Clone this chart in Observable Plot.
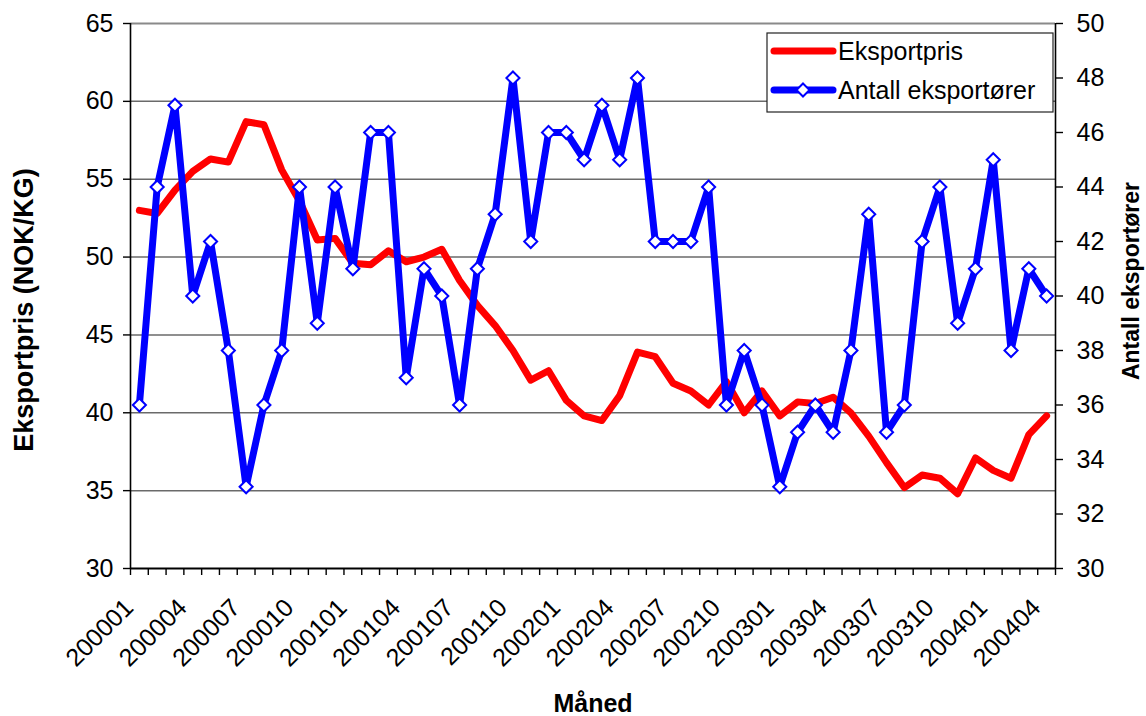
<!DOCTYPE html>
<html>
<head>
<meta charset="utf-8">
<script src="https://cdn.jsdelivr.net/npm/d3@7"></script>
<script src="https://cdn.jsdelivr.net/npm/@observablehq/plot@0.6"></script>
<style>
  body { margin: 0; background: #fff; }
  #chart { width: 1146px; height: 716px; }
</style>
</head>
<body>
<div id="chart"></div>
<script>
const months = [
  "200001","200002","200003","200004","200005","200006","200007","200008","200009","200010","200011","200012",
  "200101","200102","200103","200104","200105","200106","200107","200108","200109","200110","200111","200112",
  "200201","200202","200203","200204","200205","200206","200207","200208","200209","200210","200211","200212",
  "200301","200302","200303","200304","200305","200306","200307","200308","200309","200310","200311","200312",
  "200401","200402","200403","200404"
];
const eksportpris = [
  53.0, 52.8, 54.3, 55.5, 56.3, 56.1, 58.7, 58.5, 55.6, 53.6, 51.1, 51.2,
  49.6, 49.5, 50.4, 49.7, 50.0, 50.5, 48.5, 46.9, 45.6, 44.0, 42.1, 42.7,
  40.8, 39.8, 39.5, 41.1, 43.9, 43.6, 41.9, 41.4, 40.5, 42.0, 40.0, 41.4,
  39.8, 40.7, 40.6, 41.0, 40.0, 38.5, 36.8, 35.2, 36.0, 35.8, 34.8, 37.1,
  36.3, 35.8, 38.6, 39.8
];
const antallEksportorer = [
  36, 44, 47, 40, 42, 38, 33, 36, 38, 44, 39, 44,
  41, 46, 46, 37, 41, 40, 36, 41, 43, 48, 42, 46,
  46, 45, 47, 45, 48, 42, 42, 42, 44, 36, 38, 36,
  33, 35, 36, 35, 38, 43, 35, 36, 42, 44, 39, 41,
  45, 38, 41, 40
];
const xTickLabels = ["200001","200004","200007","200010","200101","200104","200107","200110","200201",
  "200204","200207","200210","200301","200304","200307","200310","200401","200404"];
const leftTicks = [30, 35, 40, 45, 50, 55, 60, 65];
const rightTicks = [30, 32, 34, 36, 38, 40, 42, 44, 46, 48, 50];
const seriesNames = ["Eksportpris", "Antall eksportører"];
const seriesColors = ["#ff0000", "#0000ff"];
const xTitle = "Måned";
const leftTitle = "Eksportpris (NOK/KG)";
const rightTitle = "Antall eksportører";

const FONT = "'Liberation Sans', Arial, Helvetica, sans-serif";
const leftDomain = [leftTicks[0], leftTicks[leftTicks.length - 1]];
const rightDomain = [rightTicks[0], rightTicks[rightTicks.length - 1]];
const k = (leftDomain[1] - leftDomain[0]) / (rightDomain[1] - rightDomain[0]);
const toLeft = r => leftDomain[0] + (r - rightDomain[0]) * k;
const fromLeft = v => rightDomain[0] + (v - leftDomain[0]) / k;

const data = months.map((m, i) => ({i, month: m, pris: eksportpris[i], antall: toLeft(antallEksportorer[i])}));
const boundaries = months.map((_, i) => i - 0.5).concat([months.length - 0.5]);

function legendMark(index, scales, values, dims) {
  const right = dims.width - dims.marginRight;
  const top = dims.marginTop;
  const bx = right - 288, by = top + 10, bw = 286, bh = 79;
  const g = d3.create("svg:g").attr("font-family", FONT).attr("text-anchor", "start");
  g.append("rect").attr("x", bx).attr("y", by).attr("width", bw).attr("height", bh)
    .attr("fill", "white").attr("stroke", "#222").attr("stroke-width", 1.2);
  seriesNames.forEach((name, j) => {
    const cy = by + 18 + j * 39;
    g.append("line").attr("x1", bx + 7).attr("x2", bx + 66).attr("y1", cy).attr("y2", cy)
      .attr("stroke", seriesColors[j]).attr("stroke-width", 7).attr("stroke-linecap", "round");
    if (j === 1) {
      const cx = bx + 36, s = 6.5;
      g.append("path").attr("d", `M${cx},${cy - s}L${cx + s},${cy}L${cx},${cy + s}L${cx - s},${cy}Z`)
        .attr("fill", "white").attr("stroke", seriesColors[j]).attr("stroke-width", 2);
    }
    g.append("text").attr("x", bx + 71).attr("y", cy).attr("dy", "0.35em")
      .attr("text-anchor", "start").attr("font-size", 25).attr("fill", "black").text(name);
  });
  return g.node();
}

const chart = Plot.plot({
  width: 1146,
  height: 716,
  marginLeft: 130,
  marginRight: 91,
  marginTop: 23,
  marginBottom: 148,
  style: {fontFamily: FONT, background: "white", color: "black", overflow: "visible"},
  x: {type: "linear", domain: [-0.5, months.length - 0.5]},
  y: {type: "linear", domain: leftDomain},
  marks: [
    Plot.ruleY(leftTicks.slice(1, -1), {stroke: "#6a6a6a", strokeWidth: 1.5}),
    Plot.ruleY([leftDomain[1]], {stroke: "#8a8a8a", strokeWidth: 2.2}),
    Plot.ruleX([-0.5, months.length - 0.5], {stroke: "black", strokeWidth: 1.6}),
    Plot.ruleY([leftDomain[0]], {stroke: "black", strokeWidth: 1.8}),
    Plot.axisY({anchor: "left", ticks: leftTicks, tickSize: 7, tickPadding: 10, fontSize: 25, label: null, stroke: "black", strokeWidth: 1.4}),
    Plot.axisY({anchor: "right", ticks: rightTicks.map(toLeft), tickFormat: v => String(Math.round(fromLeft(v))), tickSize: 7, tickPadding: 14, fontSize: 25, label: null, stroke: "black", strokeWidth: 1.4}),
    Plot.axisX({ticks: boundaries, tickSize: 7, tickFormat: () => "", label: null, stroke: "black", strokeWidth: 1.4}),
    Plot.text(xTickLabels, {x: d => months.indexOf(d), frameAnchor: "bottom", text: d => d, rotate: -45,
      textAnchor: "end", lineAnchor: "top", dx: -17, dy: 28, fontSize: 25, fill: "black"}),
    Plot.line(data, {x: "i", y: "pris", stroke: seriesColors[0], strokeWidth: 7, strokeLinejoin: "round", strokeLinecap: "round"}),
    Plot.line(data, {x: "i", y: "antall", stroke: seriesColors[1], strokeWidth: 7, strokeLinejoin: "round", strokeLinecap: "round"}),
    Plot.dot(data, {x: "i", y: "antall", symbol: "diamond2", r: 5.9, fill: "white", stroke: seriesColors[1], strokeWidth: 2}),
    Plot.text([xTitle], {frameAnchor: "bottom", textAnchor: "middle", dy: 143, fontSize: 25, fontWeight: "bold", fill: "black"}),
    Plot.text([leftTitle], {frameAnchor: "left", textAnchor: "middle", lineAnchor: "middle", dx: -106, dy: 14, rotate: -90, fontSize: 27, fontWeight: "bold", fill: "black"}),
    Plot.text([rightTitle], {frameAnchor: "right", textAnchor: "middle", lineAnchor: "middle", dx: 76, dy: -15, rotate: -90, fontSize: 23, fontWeight: "bold", fill: "black"}),
    legendMark
  ]
});
document.getElementById("chart").appendChild(chart);
</script>
</body>
</html>
